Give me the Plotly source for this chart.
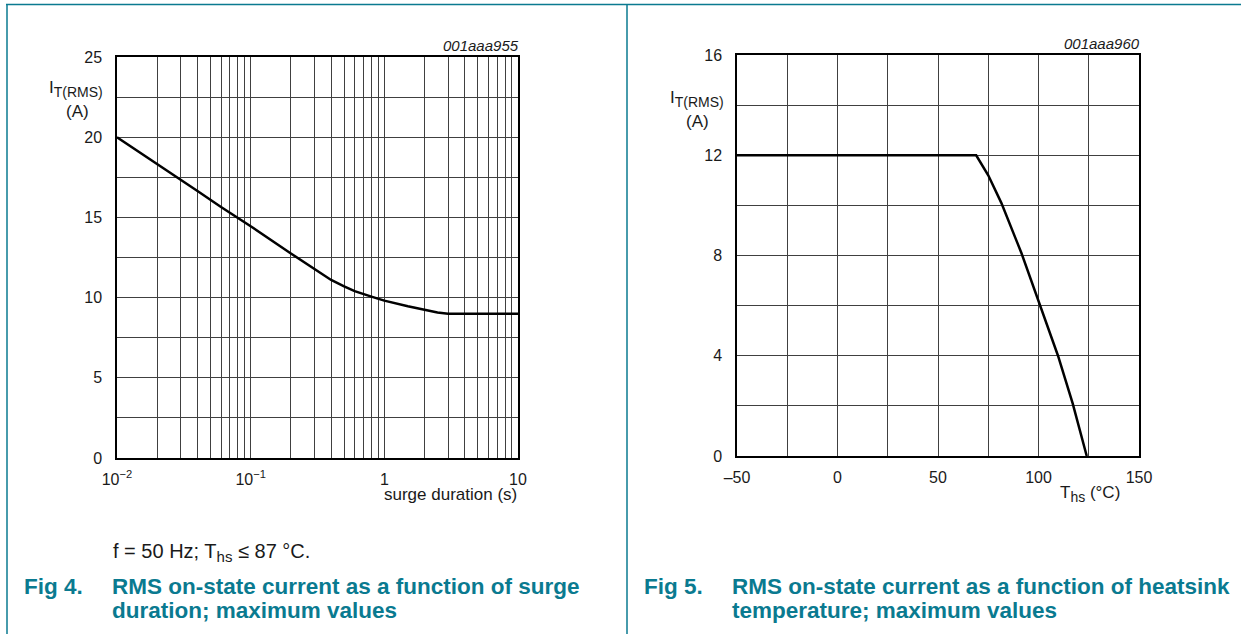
import plotly.graph_objects as go

# ---------------- data ----------------
# Fig 4: RMS on-state current vs surge duration
surge_duration = [0.01, 0.02, 0.03, 0.04, 0.06, 0.1, 0.2, 0.3, 0.4, 0.5, 0.6, 0.8, 1.0, 1.5, 2.0, 2.5, 3.0, 10.0]
it_rms_surge = [20.0, 18.35, 17.35, 16.65, 15.65, 14.45, 12.75, 11.8, 11.1, 10.7, 10.4, 10.06, 9.81, 9.46, 9.22, 9.07, 9.0, 9.0]

# Fig 5: RMS on-state current vs heatsink temperature
t_hs = [-50, 69, 75, 81.5, 91.5, 100, 109.7, 117, 124]
it_rms_temp = [12.0, 12.0, 11.2, 10.1, 8.1, 6.2, 4.0, 2.1, 0.0]

# tick / grid definitions
x1_grid = [m * 10 ** e for e in (-2, -1, 0) for m in range(1, 10)] + [10]
x1_labels = {0.01: "10<sup>−2</sup>", 0.1: "10<sup>−1</sup>", 1: "1", 10: "10"}
y1_grid = [0, 2.5, 5, 7.5, 10, 12.5, 15, 17.5, 20, 22.5, 25]
y1_labels = {0: "0", 5: "5", 10: "10", 15: "15", 20: "20", 25: "25"}
x2_grid = [-50, -25, 0, 25, 50, 75, 100, 125, 150]
x2_labels = {-50: "–50", 0: "0", 50: "50", 100: "100", 150: "150"}
y2_grid = [0, 2, 4, 6, 8, 10, 12, 14, 16]
y2_labels = {0: "0", 4: "4", 8: "8", 12: "12", 16: "16"}

W, H = 1241, 634
TEAL = "#0a7a90"
FONT = "Liberation Sans, Arial, sans-serif"


def px(x):
    return x / W


def py(y):
    return 1 - y / H


def labels_for(vals, lab):
    out = []
    for v in vals:
        key = None
        for k in lab:
            if abs(k - v) < 1e-9:
                key = k
        out.append(lab[key] if key is not None else "")
    return out


fig = go.Figure()
fig.add_trace(go.Scatter(x=surge_duration, y=it_rms_surge, mode="lines",
                         line=dict(color="black", width=2.5),
                         xaxis="x", yaxis="y", showlegend=False, hoverinfo="skip"))
fig.add_trace(go.Scatter(x=t_hs, y=it_rms_temp, mode="lines",
                         line=dict(color="black", width=2.5),
                         xaxis="x2", yaxis="y2", showlegend=False, hoverinfo="skip"))

tickfont = dict(family=FONT, size=16, color="#1a1a1a")
common = dict(showline=True, mirror=True, linecolor="black", linewidth=1.5,
              showgrid=True, gridcolor="#404040", gridwidth=1, zeroline=False,
              ticks="", tickfont=tickfont, tickmode="array", automargin=False)

fig.update_layout(
    template="none",
    width=W, height=H, autosize=False,
    margin=dict(l=0, r=0, t=0, b=0, pad=0, autoexpand=False),
    paper_bgcolor="white", plot_bgcolor="white",
    showlegend=False,
    xaxis=dict(type="log", range=[-2, 1], domain=[px(117), px(518)], anchor="y",
               tickvals=x1_grid, ticktext=labels_for(x1_grid, x1_labels),
               ticklabelstandoff=6, **common),
    yaxis=dict(range=[0, 25], domain=[py(458), py(57)], anchor="x",
               tickvals=y1_grid, ticktext=labels_for(y1_grid, y1_labels),
               ticklabelstandoff=10, **common),
    xaxis2=dict(range=[-50, 150], domain=[px(737), px(1139)], anchor="y2",
                tickvals=x2_grid, ticktext=labels_for(x2_grid, x2_labels),
                ticklabelstandoff=6, **common),
    yaxis2=dict(range=[0, 16], domain=[py(456), py(55)], anchor="x2",
                tickvals=y2_grid, ticktext=labels_for(y2_grid, y2_labels),
                ticklabelstandoff=10, **common),
)

# frame lines (teal)
shapes = [
    dict(type="line", xref="paper", yref="paper", x0=px(6), x1=1, y0=py(4.5), y1=py(4.5),
         line=dict(color=TEAL, width=1.5)),
    dict(type="line", xref="paper", yref="paper", x0=px(7), x1=px(7), y0=py(4.5), y1=0,
         line=dict(color=TEAL, width=1.5)),
    dict(type="line", xref="paper", yref="paper", x0=px(627), x1=px(627), y0=py(4.5), y1=0,
         line=dict(color=TEAL, width=1.5)),
]
fig.update_layout(shapes=shapes)


def ann(x, y, text, size=17, color="#1a1a1a", xanchor="center", italic=False, bold=False):
    if bold:
        text = "<b>" + text + "</b>"
    if italic:
        text = "<i>" + text + "</i>"
    return dict(x=px(x), y=py(y), xref="paper", yref="paper", text=text, showarrow=False,
                xanchor=xanchor, yanchor="middle", align="left",
                font=dict(family=FONT, size=size, color=color))


ITRMS = "I<sub><span style='font-size:14px'>T(RMS)</span></sub>"

anns = [
    # fig 4
    ann(76, 89, ITRMS),
    ann(77, 111, "(A)"),
    ann(521, 45, "001aaa955", size=15, xanchor="right", italic=True),
    ann(519, 494, "surge duration (s)", xanchor="right"),
    ann(111, 552, "f = 50 Hz; T<sub><span style='font-size:15px'>hs</span></sub> ≤ 87 °C.", size=20, xanchor="left"),
    ann(22, 586, "Fig 4.", size=22.5, color=TEAL, xanchor="left", bold=True),
    ann(110, 586, "RMS on-state current as a function of surge", size=22.5, color=TEAL, xanchor="left", bold=True),
    ann(110, 610, "duration; maximum values", size=22.5, color=TEAL, xanchor="left", bold=True),
    # fig 5
    ann(697, 99, ITRMS),
    ann(697, 121, "(A)"),
    ann(1142, 43, "001aaa960", size=15, xanchor="right", italic=True),
    ann(1090, 494, "T<sub><span style='font-size:14px'>hs</span></sub> (°C)"),
    ann(642, 586, "Fig 5.", size=22.5, color=TEAL, xanchor="left", bold=True),
    ann(730, 586, "RMS on-state current as a function of heatsink", size=22.5, color=TEAL, xanchor="left", bold=True),
    ann(730, 610, "temperature; maximum values", size=22.5, color=TEAL, xanchor="left", bold=True),
]
fig.update_layout(annotations=anns)

fig.write_html("out.html", config={"displayModeBar": False, "responsive": False},
               post_script="document.body.style.margin='0';document.body.style.overflow='hidden';")
